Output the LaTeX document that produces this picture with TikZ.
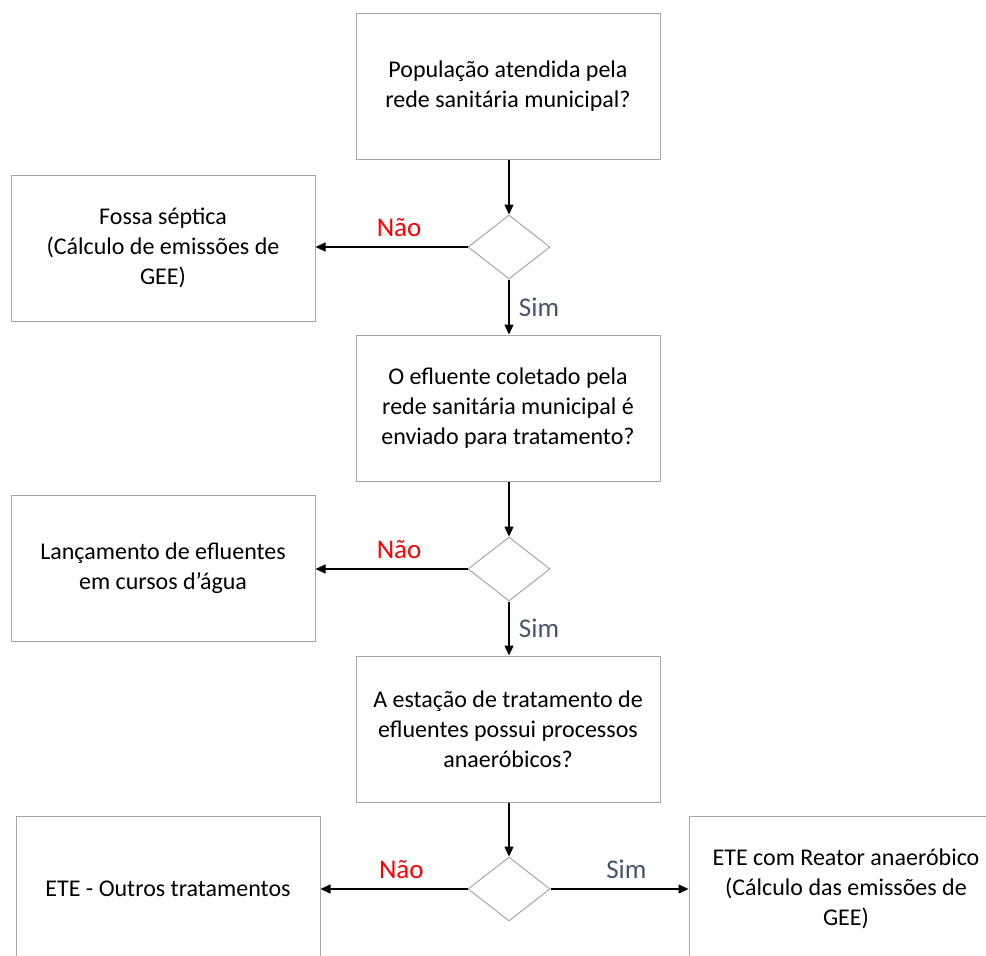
\documentclass[tikz,border=0pt]{standalone}
\usepackage{fontspec}
\setmainfont{Carlito}
\usepackage{tikz}
\usetikzlibrary{arrows.meta,shapes.geometric}
\usepackage{xcolor}
\definecolor{boxgray}{HTML}{A6A6A6}
\definecolor{simblue}{HTML}{44546A}

\begin{document}
\begin{tikzpicture}[x=1pt, y=-1pt,
  box/.style={draw=boxgray, line width=1pt, minimum width=304pt, minimum height=146pt, align=center, font=\fontsize{24}{30}\selectfont},
  dec/.style={diamond, draw=boxgray, line width=1pt, minimum width=82pt, minimum height=64pt, inner sep=0pt},
  arr/.style={-{Triangle[length=10pt,width=9pt]}, line width=1.3pt},
  nao/.style={text=red, font=\fontsize{27}{30}\selectfont},
  sim/.style={text=simblue, font=\fontsize{27}{30}\selectfont}]
\useasboundingbox (0,0) rectangle (986,956);
\clip (0,0) rectangle (986,956);
\node[box] (pop) at (508,86) {População atendida pela\\rede sanitária municipal?};
\node[dec] (d1) at (509,247) {};
\node[box] (fossa) at (163,248) {Fossa séptica\\(Cálculo de emissões de\\GEE)};
\node[box] (col) at (508,408) {O efluente coletado pela\\rede sanitária municipal é\\enviado para tratamento?};
\node[dec] (d2) at (509,569) {};
\node[box] (lanc) at (163,568) {Lançamento de efluentes\\em cursos d’água};
\node[box] (ete) at (508,729) {A estação de tratamento de\\efluentes possui processos\\anaeróbicos?};
\node[dec] (d3) at (509,889) {};
\node[box] (outros) at (168,889) {ETE - Outros tratamentos};
\node[box, minimum width=314pt] (reator) at (846,889) {ETE com Reator anaeróbico\\(Cálculo das emissões de\\GEE)};

\draw[arr] (pop.south -| d1) -- (d1.north);
\draw[arr] (d1.west) -- (d1.west -| fossa.east) node[nao, pos=0.45, above=6pt]{Não};
\draw[arr] (d1.south) -- (col.north -| d1) node[sim, midway, right=6pt]{Sim};
\draw[arr] (col.south -| d2) -- (d2.north);
\draw[arr] (d2.west) -- (d2.west -| lanc.east) node[nao, pos=0.45, above=6pt]{Não};
\draw[arr] (d2.south) -- (ete.north -| d2) node[sim, midway, right=6pt]{Sim};
\draw[arr] (ete.south -| d3) -- (d3.north);
\draw[arr] (d3.west) -- (d3.west -| outros.east) node[nao, pos=0.45, above=6pt]{Não};
\draw[arr] (d3.east) -- (d3.east -| reator.west) node[sim, pos=0.55, above=6pt]{Sim};
\end{tikzpicture}
\end{document}
